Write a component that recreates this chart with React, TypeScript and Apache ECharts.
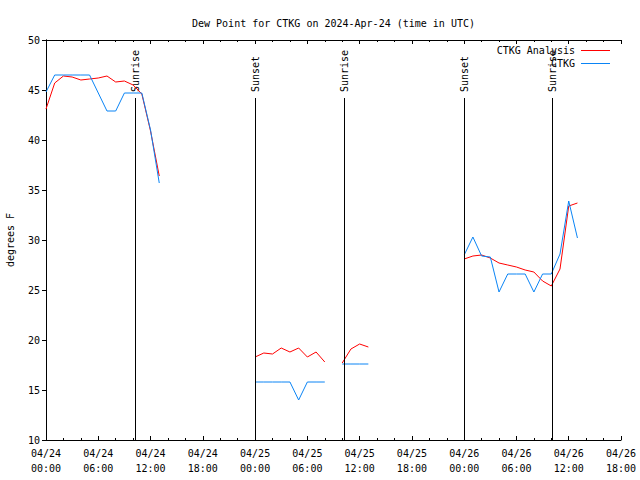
import React, { useEffect, useRef } from "react";
import * as echarts from "echarts";

const FONT = "DejaVu Sans Mono";

// hours since 2024-04-24 00:00 UTC, one array per segment
const seg1Hours = [0, 1, 2, 3, 4, 5, 6, 7, 8, 9, 10, 11, 12, 13];
const seg1Analysis = [43.1, 45.7, 46.4, 46.3, 46.0, 46.1, 46.2, 46.4, 45.8, 45.9, 45.5, 44.6, 40.9, 36.4];
const seg1Obs = [44.8, 46.5, 46.5, 46.5, 46.5, 46.5, 44.7, 42.9, 42.9, 44.7, 44.7, 44.7, 41.0, 35.7];

const seg2Hours = [24, 25, 26, 27, 28, 29, 30, 31, 32];
const seg2Analysis = [18.3, 18.7, 18.6, 19.2, 18.8, 19.2, 18.3, 18.8, 17.8];
const seg2Obs = [15.8, 15.8, 15.8, 15.8, 15.8, 14.0, 15.8, 15.8, 15.8];

const seg3Hours = [34, 35, 36, 37];
const seg3Analysis = [17.7, 19.1, 19.6, 19.3];
const seg3Obs = [17.6, 17.6, 17.6, 17.6];

const seg4Hours = [48, 49, 50, 51, 52, 53, 54, 55, 56, 57, 58, 59, 60, 61];
const seg4Analysis = [28.1, 28.4, 28.5, 28.2, 27.7, 27.5, 27.3, 27.0, 26.8, 25.9, 25.4, 27.1, 33.4, 33.7];
const seg4Obs = [28.5, 30.3, 28.4, 28.3, 24.8, 26.6, 26.6, 26.6, 24.8, 26.6, 26.6, 28.6, 33.9, 30.2];

const sunHours = [10.28, 24.05, 34.25, 48.02, 58.13];
const sunLabels = ["Sunrise", "Sunset", "Sunrise", "Sunset", "Sunrise"];

const xMin = 0;
const xMax = 66;
const yMin = 10;
const yMax = 50;

function build(hoursList: number[][], valuesList: number[][]) {
  const out: any[] = [];
  hoursList.forEach((hs, i) => {
    if (i > 0) out.push([hs[0] - 0.5, "-"]);
    hs.forEach((h, j) => out.push([h, valuesList[i][j]]));
  });
  return out;
}

function fmtX(v: number) {
  const day = 24 + Math.floor(v / 24);
  const hr = v % 24;
  return "04/" + day + "\n" + String(hr).padStart(2, "0") + ":00";
}

export default function App() {
  const ref = useRef<HTMLDivElement>(null);
  useEffect(() => {
    if (!ref.current) return;
    const chart = echarts.init(ref.current, null, { renderer: "svg" });
    const hoursList = [seg1Hours, seg2Hours, seg3Hours, seg4Hours];
    const analysis = build(hoursList, [seg1Analysis, seg2Analysis, seg3Analysis, seg4Analysis]);
    const obs = build(hoursList, [seg1Obs, seg2Obs, seg3Obs, seg4Obs]);

    const xCommon = {
      type: "value",
      min: xMin,
      max: xMax,
      interval: 6,
      splitLine: { show: false },
      axisLine: { show: true, lineStyle: { color: "#000", width: 1 } },
      axisTick: { show: true, inside: true, length: 4, lineStyle: { color: "#000" } },
      minorTick: { show: true, splitNumber: 3, length: 2, lineStyle: { color: "#000" } },
      minorSplitLine: { show: false },
    };

    const option: any = {
      animation: false,
      backgroundColor: "#fff",
      title: {
        text: "Dew Point for CTKG on 2024-Apr-24 (time in UTC)",
        left: 187,
        top: 13,
        textStyle: { fontFamily: FONT, fontSize: 10, fontWeight: "normal", color: "#000" },
      },
      grid: { left: 46, right: 19, top: 40, bottom: 40, containLabel: false, outerBoundsMode: "none" },
      xAxis: [
        {
          ...xCommon,
          position: "bottom",
          axisLabel: {
            show: true,
            formatter: fmtX,
            fontFamily: FONT,
            fontSize: 10,
            color: "#000",
            lineHeight: 15,
            margin: 6,
            showMinLabel: true,
            showMaxLabel: true,
          },
        },
        {
          ...xCommon,
          position: "top",
          axisLabel: { show: false },
        },
      ],
      yAxis: [
        {
          type: "value",
          min: yMin,
          max: yMax,
          interval: 5,
          position: "left",
          name: "degrees F",
          nameLocation: "middle",
          nameGap: 31,
          nameTextStyle: { fontFamily: FONT, fontSize: 10, color: "#000" },
          splitLine: { show: false },
          axisLine: { show: true, lineStyle: { color: "#000", width: 1 } },
          axisTick: { show: false },
          axisLabel: { fontFamily: FONT, fontSize: 10, color: "#000", margin: 6 },
        },
        {
          type: "value",
          min: yMin,
          max: yMax,
          interval: 5,
          position: "right",
          splitLine: { show: false },
          axisLine: { show: true, lineStyle: { color: "#000", width: 1 } },
          axisTick: { show: true, inside: true, length: 4, lineStyle: { color: "#000" } },
          axisLabel: { show: false },
        },
      ],
      series: [
        {
          name: "CTKG Analysis",
          type: "line",
          data: analysis,
          symbol: "none",
          connectNulls: false,
          lineStyle: { color: "#ff0000", width: 1 },
          itemStyle: { color: "#ff0000" },
        },
        {
          name: "CTKG",
          type: "line",
          data: obs,
          symbol: "none",
          connectNulls: false,
          lineStyle: { color: "#0a84f5", width: 1 },
          itemStyle: { color: "#0a84f5" },
          markLine: {
            silent: true,
            symbol: ["none", "none"],
            label: { show: false },
            lineStyle: { color: "#000", width: 1, type: "solid" },
            data: sunHours.map((h) => [{ coord: [h, yMin] }, { coord: [h, 44.2] }]),
          },
        },
      ],
    };
    chart.setOption(option);

    const graphics: any[] = [];
    sunHours.forEach((h, i) => {
      const p = chart.convertToPixel({ gridIndex: 0 }, [h, 44.8]) as number[];
      graphics.push({
        type: "text",
        x: p[0],
        y: p[1],
        rotation: Math.PI / 2,
        style: {
          text: sunLabels[i],
          fontFamily: FONT,
          fontSize: 10,
          fill: "#000",
          align: "left",
          verticalAlign: "middle",
        },
      });
    });
    // legend
    const legendItems = [
      { name: "CTKG Analysis", color: "#ff0000", y: 50 },
      { name: "CTKG", color: "#0a84f5", y: 63 },
    ];
    legendItems.forEach((it) => {
      graphics.push({
        type: "text",
        x: 575,
        y: it.y,
        style: {
          text: it.name,
          fontFamily: FONT,
          fontSize: 10,
          fill: "#000",
          align: "right",
          verticalAlign: "middle",
        },
      });
      graphics.push({
        type: "line",
        shape: { x1: 581, y1: it.y + 0.5, x2: 610, y2: it.y + 0.5 },
        style: { stroke: it.color, lineWidth: 1 },
      });
    });
    chart.setOption({ graphic: graphics });

    return () => chart.dispose();
  }, []);
  return (
    <div
      ref={ref}
      style={{ position: "fixed", left: 0, top: 0, width: 640, height: 480, background: "#fff" }}
    />
  );
}
